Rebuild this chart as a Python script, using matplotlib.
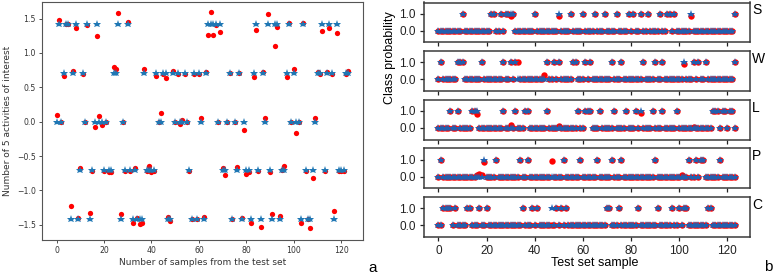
import numpy as np
import matplotlib
matplotlib.use("Agg")
import matplotlib.pyplot as plt

# ---- panel a: true class level (star) and regression output (red dot) per test sample
levels = [1.414, 0.707, 0.0, -0.707, -1.414]
true_class = [2, 0, 2, 1, 0, 0, 4, 1, 0, 4,
              3, 1, 2, 0, 4, 3, 2, 0, 2, 2,
              3, 2, 3, 3, 1, 1, 0, 4, 2, 3,
              0, 3, 4, 3, 4, 4, 4, 1, 3, 3,
              3, 3, 1, 2, 2, 1, 1, 4, 4, 1,
              2, 1, 2, 2, 1, 2, 3, 4, 1, 4,
              1, 2, 4, 1, 0, 0, 0, 0, 2, 0,
              3, 3, 2, 1, 4, 2, 3, 1, 4, 2,
              3, 3, 4, 1, 0, 3, 4, 1, 2, 0,
              3, 4, 0, 0, 4, 3, 3, 1, 0, 2,
              1, 2, 2, 4, 0, 3, 4, 4, 3, 2,
              1, 1, 0, 3, 1, 0, 1, 4, 0, 3,
              3, 3, 1, 1]
predicted = [0.10, 1.48, 0.00, 0.67, 1.42, 1.42, -1.22, 0.73, 1.36, -1.40,
             -0.67, 0.70, 0.00, 1.40, -1.33, -0.71, -0.07, 1.25, 0.08, -0.05,
             -0.71, 0.00, -0.73, -0.73, 0.79, 0.77, 1.58, -1.34, 0.00, -0.71,
             1.45, -0.71, -1.47, -0.67, -1.40, -1.49, -1.47, 0.77, -0.71, -0.65,
             -0.73, -0.71, 0.67, 0.00, 0.13, 0.70, 0.63, -1.39, -1.45, 0.73,
             0.00, 0.70, -0.04, 0.03, 0.70, 0.00, -0.71, -1.41, 0.70, -1.41,
             0.70, 0.05, -1.38, 0.72, 1.26, 1.60, 1.26, 1.40, 0.00, 1.30,
             -0.67, -0.77, 0.00, 0.71, -1.41, 0.00, -0.66, 0.71, -1.40, -0.12,
             -0.76, -0.73, -1.47, 0.65, 1.34, -0.71, -1.53, 0.72, 0.06, 1.56,
             -0.73, -1.34, 1.10, 1.37, -1.37, -0.70, -0.65, 0.65, 1.44, 0.00,
             0.76, -0.17, 0.00, -1.47, 1.43, -0.71, -1.41, -1.55, -0.82, 0.06,
             0.72, 0.70, 1.32, -0.71, 0.72, 1.36, 0.70, -1.30, 1.29, -0.71,
             -0.71, -0.71, 0.69, 0.73]

# ---- panel b: one class per row, samples whose true label is 1, and off-target outputs
class_names = ["S", "W", "L", "P", "C"]
s_ones = [10, 22, 23, 26, 28, 29, 30, 31, 40, 50, 55, 60, 65, 69, 74, 79, 81, 84, 87,
          92, 95, 96, 98, 105, 123]
w_ones = [1, 8, 9, 10, 18, 27, 30, 32, 45, 48, 50, 56, 57, 61, 63, 72, 76, 85, 90, 93,
          102, 106, 108, 111, 123]
l_ones = [5, 8, 14, 15, 16, 27, 32, 36, 37, 45, 58, 61, 62, 63, 67, 73, 78, 82, 84, 89,
          93, 99, 114, 115, 116, 118, 119, 121, 122]
p_ones = [1, 19, 24, 34, 37, 52, 59, 66, 72, 76, 90, 104, 107, 109, 110, 117]
c_ones = [2, 3, 4, 5, 7, 12, 13, 17, 20, 35, 39, 41, 47, 49, 51, 53, 70, 71, 75, 83,
          91, 97, 100, 102, 103, 112, 113]
s_off = {30: 0.85, 50: 0.88, 105: 0.86}
w_off = {33: 1.0, 44: 0.26, 102: 0.9}
l_off = {16: 0.8, 84: 0.9, 30: 0.15, 50: 0.1, 106: 0.08}
p_off = {19: 0.87, 47: 0.92, 16: 0.1, 17: 0.12, 18: 0.1, 101: 0.08}
c_off = {47: 0.0}
ones_by_class = [s_ones, w_ones, l_ones, p_ones, c_ones]
off_by_class = [s_off, w_off, l_off, p_off, c_off]

W, H = 777, 275
fig = plt.figure(figsize=(W / 100, H / 100), dpi=100)


def box(x0, y0, x1, y1):
    return [x0 / W, 1 - y1 / H, (x1 - x0) / W, (y1 - y0) / H]


# panel a
n = len(true_class)
samples = np.arange(n)
star_y = np.array(levels)[np.array(true_class)]
ax = fig.add_axes(box(42, 2, 363, 240))
ax.plot(samples, predicted, "o", color="red", ms=3.8, mew=0, zorder=2)
ax.plot(samples, star_y, "*", color="#1f77b4", ms=6.2, mew=0, zorder=3)
ax.set_xlim(-6.15, 129.15)
ax.set_ylim(-1.72, 1.74)
ax.set_xticks([0, 20, 40, 60, 80, 100, 120])
ax.set_yticks([-1.5, -1.0, -0.5, 0.0, 0.5, 1.0, 1.5])
ax.tick_params(labelsize=5.6, length=2.5, width=0.6, pad=2, colors="#333333")
for sp in ax.spines.values():
    sp.set_linewidth(0.8)
    sp.set_color("#555555")
ax.set_xlabel("Number of samples from the test set", fontsize=6.5, labelpad=2, color="#333333")
fig.text(8 / W, 1 - 121 / H, "Number of 5 activities of interest", rotation=90,
         ha="center", va="center", fontsize=6.5, color="#333333")
fig.text(373 / W, 1 - 268 / H, "a", ha="center", va="center", fontsize=11,
         family="Liberation Sans")

# panel b
rfont = "Liberation Sans"
top, pitch, hgt = 2.5, 48.6, 39.8
for k, name in enumerate(class_names):
    y0 = top + k * pitch
    axr = fig.add_axes(box(424, y0, 750, y0 + hgt))
    truth = np.zeros(n)
    truth[ones_by_class[k]] = 1.0
    prob = truth.copy()
    for i, v in off_by_class[k].items():
        prob[i] = v
    axr.plot(samples, prob, "o", color="red", ms=4.6, mew=0, zorder=2)
    axr.plot(samples, truth, "*", color="#2160b0", ms=6.2, mew=0, zorder=3)
    axr.set_xlim(-6.0, 129.4)
    axr.set_ylim(-0.68, 1.66)
    axr.set_yticks([0, 1])
    axr.set_yticklabels(["0.0", "1.0"], family=rfont, fontsize=8.5)
    axr.set_xticks([0, 20, 40, 60, 80, 100, 120])
    if k == len(class_names) - 1:
        axr.set_xticklabels(["0", "20", "40", "60", "80", "100", "120"], family=rfont, fontsize=8.5)
    else:
        axr.set_xticklabels([])
    axr.tick_params(direction="out", length=3, width=0.9, pad=3, colors="#222222")
    for sp in axr.spines.values():
        sp.set_linewidth(1.1)
        sp.set_color("#3a3a3a")
    fig.text(752 / W, 1 - (y0 + 8) / H, name, ha="left", va="center",
             family=rfont, fontsize=10)

fig.text(390 / W, 1 - 58 / H, "Class probability", rotation=90, ha="center",
         va="center", family=rfont, fontsize=9)
fig.text(595 / W, 1 - 263 / H, "Test set sample", ha="center", va="center",
         family=rfont, fontsize=9)
fig.text(768 / W, 1 - 267 / H, "b", ha="center", va="center", fontsize=11,
         family=rfont)

fig.savefig("out.png", dpi=100)
